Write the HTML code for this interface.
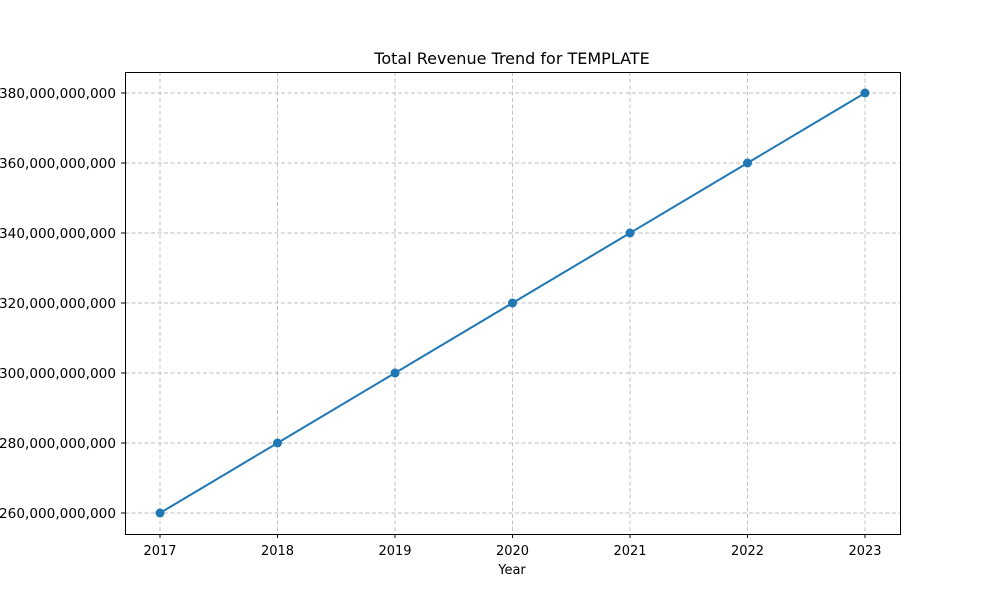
<!DOCTYPE html>
<html><head><meta charset="utf-8"><style>
body{margin:0;background:#fff;}
svg{display:block;font-family:"DejaVu Sans","Liberation Sans",sans-serif;}
</style></head><body>
<svg id="chart" width="1000" height="600" viewBox="0 0 1000 600">
<rect width="1000" height="600" fill="#fff"/>
<text x="512" y="64" text-anchor="middle" font-size="16">Total Revenue Trend for TEMPLATE</text>
<g id="grid"></g><g id="xticks"></g><g id="yticks"></g><g id="series"></g>
<rect x="125.5" y="72.5" width="775" height="462" fill="none" stroke="#000" stroke-width="1"/>
<text x="512" y="574" text-anchor="middle" font-size="13">Year</text>
</svg>
<script>
const years = [2017, 2018, 2019, 2020, 2021, 2022, 2023];
const revenue = [260e9, 280e9, 300e9, 320e9, 340e9, 360e9, 380e9];
const yTicks = [260e9, 280e9, 300e9, 320e9, 340e9, 360e9, 380e9];
const NS = "http://www.w3.org/2000/svg";
function xs(v){return 160 + (v - 2017) * (865 - 160) / 6;}
function ys(v){return 513 - (v - 260e9) * (513 - 93) / 120e9;}
function mk(tag, attrs, parent){const e=document.createElementNS(NS,tag);for(const k in attrs)e.setAttribute(k,attrs[k]);document.getElementById(parent).appendChild(e);return e;}
years.forEach(y=>{
  const x=xs(y);
  const g=mk("line",{x1:x,x2:x,y1:72,y2:534,stroke:"#bdbdbd","stroke-dasharray":"4,2.5","stroke-width":0.9},"grid");
  
  
  const t=mk("line",{x1:x,x2:x,y1:534,y2:538,stroke:"#000"},"xticks");
  
  
  const l=mk("text",{x:x,y:555,"text-anchor":"middle","font-size":13,textLength:33,lengthAdjust:"spacingAndGlyphs"},"xticks");
  l.textContent=y;
  
  
});
yTicks.forEach(v=>{
  const y=ys(v);
  const g=mk("line",{x1:125,x2:900,y1:y,y2:y,stroke:"#bdbdbd","stroke-dasharray":"4,2.5","stroke-width":0.9},"grid");
  
  
  const t=mk("line",{x1:121,x2:125,y1:y,y2:y,stroke:"#000"},"yticks");
  
  
  const l=mk("text",{x:116,y:y+5,"text-anchor":"end","font-size":13,textLength:117,lengthAdjust:"spacingAndGlyphs"},"yticks");
  l.textContent=v.toLocaleString("en-US");
  
  
});
const pts=years.map((y,i)=>xs(y)+","+ys(revenue[i])).join(" ");
const line=mk("polyline",{points:pts,fill:"none",stroke:"#1f77b4","stroke-width":2},"series");


years.forEach((y,i)=>{
  const c=mk("circle",{cx:xs(y),cy:ys(revenue[i]),r:4.5,fill:"#1f77b4"},"series");
  
  
});
</script>
</body></html>
